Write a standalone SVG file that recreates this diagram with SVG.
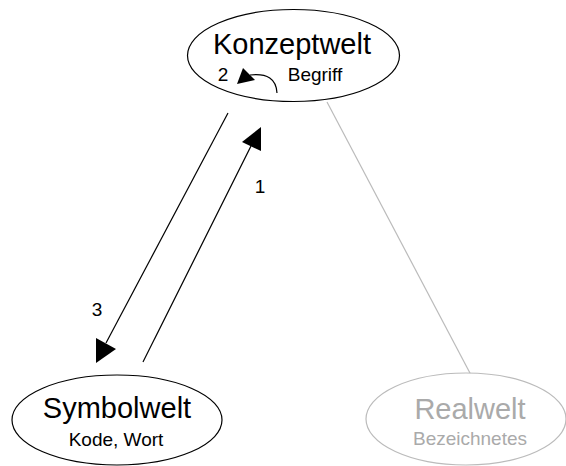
<svg xmlns="http://www.w3.org/2000/svg" width="566" height="466" viewBox="0 0 566 466">
  <style>
    .node { fill: #ffffff; stroke: #000000; stroke-width: 1.2; }
    .node.dim { stroke: #bbbbbb; }
    text { font-family: "Liberation Sans", Arial, sans-serif; fill: #000000; text-anchor: middle; }
    .title { font-size: 29px; }
    .sub { font-size: 19px; }
    .dim-text { fill: #aaaaaa; }
    .edge { fill: none; stroke: #000000; stroke-width: 1.2; }
    .edge.dim { stroke: #bbbbbb; }
    .head { fill: #000000; stroke: none; }
  </style>

  <!-- connectors -->
  <g id="connectors">
    <line class="edge dim" x1="327" y1="102" x2="471" y2="375"/>
    <line class="edge" x1="228" y1="113" x2="106" y2="343"/>
    <polygon class="head" points="96,338 116,349 96,363"/>
    <line class="edge" x1="143" y1="362" x2="251" y2="146"/>
    <polygon class="head" points="261,127 242,142 261,151"/>
    <text class="sub" x="260" y="193">1</text>
    <text class="sub" x="97" y="316">3</text>
  </g>

  <!-- concept world node with self-loop -->
  <g id="konzeptwelt">
    <ellipse class="node" cx="293.5" cy="55.5" rx="106" ry="46"/>
    <text class="title" x="292" y="54">Konzeptwelt</text>
    <text class="sub" x="315" y="81">Begriff</text>
    <text class="sub" x="223" y="81">2</text>
    <path class="edge" d="M277,93 Q276,72 250,75"/>
    <polygon class="head" points="243,68 255,80 237,84"/>
  </g>

  <!-- symbol world node -->
  <g id="symbolwelt">
    <ellipse class="node" cx="117" cy="420" rx="105" ry="45"/>
    <text class="title" x="117" y="418">Symbolwelt</text>
    <text class="sub" x="116" y="446">Kode, Wort</text>
  </g>

  <!-- real world node -->
  <g id="realwelt">
    <ellipse class="node dim" cx="466" cy="419" rx="100" ry="46"/>
    <text class="title dim-text" x="470" y="419">Realwelt</text>
    <text class="sub dim-text" x="470" y="445">Bezeichnetes</text>
  </g>
</svg>
